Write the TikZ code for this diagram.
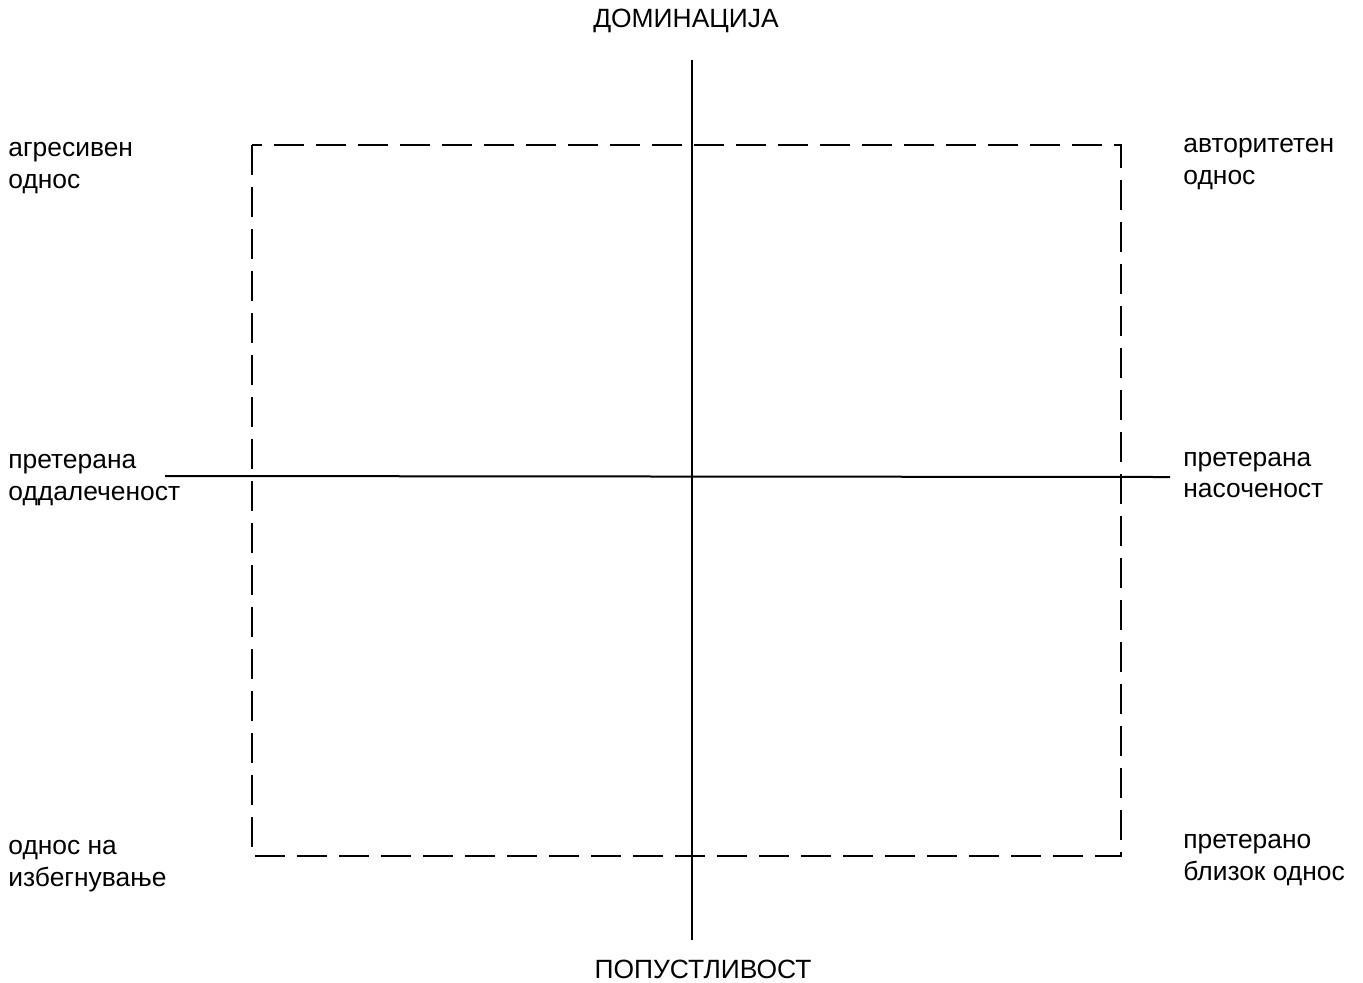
\documentclass[tikz,border=0pt]{standalone}
\usepackage{fontspec}
\setmainfont{Liberation Sans}
\usetikzlibrary{positioning}
\tikzset{lbl/.style={align=left,anchor=west,inner sep=0pt,font=\fontsize{13.2}{15.8}\selectfont},
  axis/.style={line width=1pt},
  frame/.style={line width=1pt,dash pattern=on 15pt off 6pt}}

\begin{document}
\begin{tikzpicture}[x=0.5pt,y=-0.5pt]
\useasboundingbox (0,0) rectangle (1363,982);
% axes
\coordinate (vtop) at (692,60);
\coordinate (vbot) at (692,940);
\coordinate (hleft) at (165,476);
\coordinate (hright) at (1170,477);
\draw[axis] (vtop) -- (vbot);
\draw[axis] (hleft) -- (hright);
% dashed frame
\draw[frame] (252,145) rectangle (1121,856);
% axis names
\node[lbl,anchor=center] (dom) at (686,21) {ДОМИНАЦИЈА};
\node[lbl,anchor=center] (pop) at (703,969) {ПОПУСТЛИВОСТ};
% left side
\node[lbl] (agr) at (8,168) {агресивен\\однос};
\node[lbl] (odd) at (8,480) {претерана\\оддалеченост};
\node[lbl] (izb) at (8,866) {однос на\\избегнување};
% right side
\node[lbl] (avt) at (1183,164) {авторитетен\\однос};
\node[lbl] (nas) at (1183,475) {претерана\\насоченост};
\node[lbl] (bli) at (1183,860) {претерано\\близок однос};
\end{tikzpicture}
\end{document}
